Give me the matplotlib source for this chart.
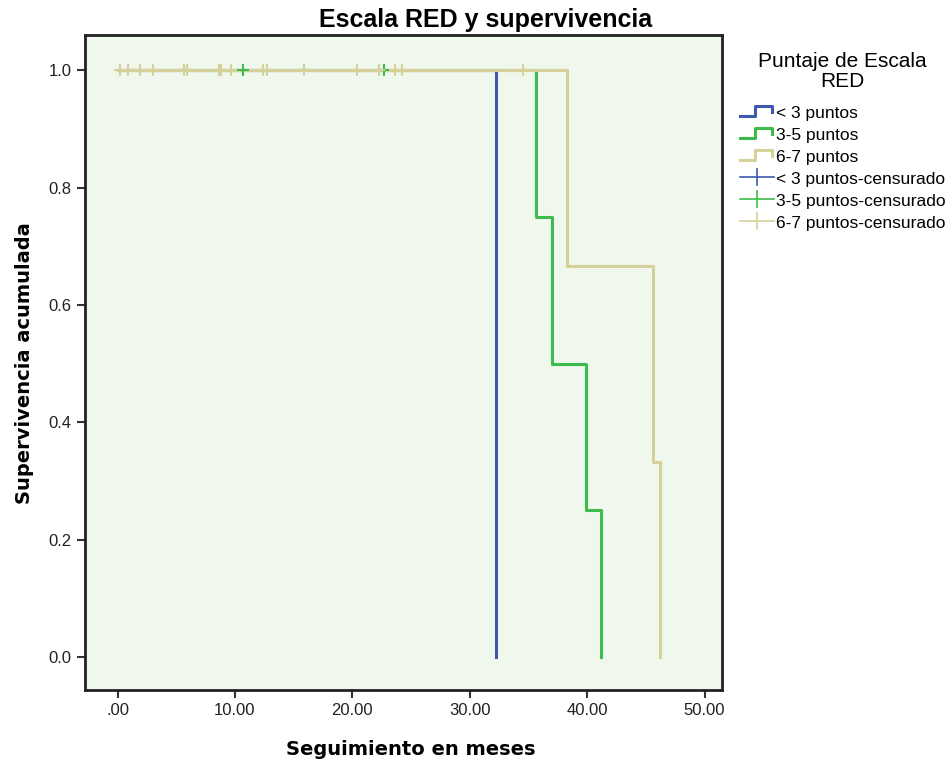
import matplotlib
matplotlib.use('Agg')
import matplotlib.pyplot as plt
from matplotlib.legend_handler import HandlerBase
from matplotlib.lines import Line2D

plt.rcParams['font.family'] = ['Liberation Sans', 'DejaVu Sans']

# survival steps (time in months, cumulative survival)
t_lt3 = [0, 32.2, 32.2]
s_lt3 = [1.0, 1.0, 0.0]

t_35 = [0, 35.6, 37.0, 39.9, 41.2]
s_35 = [1.0, 0.75, 0.5, 0.25, 0.0]

t_67 = [0, 38.3, 45.6, 46.2]
s_67 = [1.0, 0.667, 0.333, 0.0]

# censored observations
cens_35 = [10.7, 22.7]
cens_67 = [0.2, 0.85, 1.9, 3.0, 5.7, 5.9, 8.6, 8.8, 9.7, 12.4, 12.7, 15.9,
           20.4, 22.3, 23.6, 24.2, 34.5]

blue = '#3e57b0'
green = '#3cbc4c'
tan = '#d6d09a'


class StepHandler(HandlerBase):
    def create_artists(self, legend, orig, xd, yd, w, h, fontsize, trans):
        xs = [xd, xd + w * 0.45, xd + w * 0.45, xd + w * 0.92, xd + w * 0.92]
        ys = [yd + h * 0.1, yd + h * 0.1, yd + h * 0.85, yd + h * 0.85, yd + h * 0.35]
        ln = Line2D(xs, ys, color=orig.get_color(), lw=2.2, transform=trans)
        return [ln]


class CensHandler(HandlerBase):
    def create_artists(self, legend, orig, xd, yd, w, h, fontsize, trans):
        hl = Line2D([xd, xd + w], [yd + h / 2, yd + h / 2], color=orig.get_color(),
                    lw=1.2, transform=trans)
        vl = Line2D([xd + w / 2, xd + w / 2], [yd - h * 0.1, yd + h * 1.1],
                    color=orig.get_color(), lw=1.2, transform=trans)
        return [hl, vl]


fig = plt.figure(figsize=(9.52, 7.68), dpi=100)
ax = fig.add_axes([0.0893, 0.1016, 0.6687, 0.8524])
ax.set_facecolor('#f0f8ee')

h1, = ax.step(t_35, s_35, where='post', color=green, lw=2.2)
h2, = ax.step(t_67, s_67, where='post', color=tan, lw=2.2)
h0, = ax.step(t_lt3, s_lt3, where='post', color=blue, lw=2.2)
ax.plot([0, 32.2], [1.0, 1.0], color=tan, lw=2.2)

c0, = ax.plot([], [], ls='none', marker='+', color=blue, ms=9)
c1, = ax.plot(cens_35, [1.0] * len(cens_35), ls='none', marker='+', color=green, ms=9, mew=1.5)
c2, = ax.plot(cens_67, [1.0] * len(cens_67), ls='none', marker='+', color=tan, ms=9, mew=1.5)

ax.set_xlim(-2.77, 51.45)
ax.set_ylim(-0.0562, 1.0596)
ax.set_xticks([0, 10, 20, 30, 40, 50])
ax.set_xticklabels(['.00', '10.00', '20.00', '30.00', '40.00', '50.00'])
ax.set_yticks([0, 0.2, 0.4, 0.6, 0.8, 1.0])
ax.set_yticklabels(['0.0', '0.2', '0.4', '0.6', '0.8', '1.0'])
ax.tick_params(labelsize=12, length=6, width=1.5, color='#333333', labelcolor='#222222')
for sp in ax.spines.values():
    sp.set_linewidth(2)
    sp.set_color('#222222')

fig.text(0.51, 0.974, 'Escala RED y supervivencia', fontsize=18, fontweight='bold',
         ha='center', va='center')
ax.set_xlabel('Seguimiento en meses', fontsize=14, fontweight='bold', family='DejaVu Sans')
ax.set_ylabel('Supervivencia acumulada', fontsize=14, fontweight='bold', family='DejaVu Sans')
ax.xaxis.set_label_coords(0.512, -0.077)
ax.yaxis.set_label_coords(-0.08, 0.5)

leg = fig.legend([h0, h1, h2, c0, c1, c2],
                 ['< 3 puntos', '3-5 puntos', '6-7 puntos',
                  '< 3 puntos-censurado', '3-5 puntos-censurado', '6-7 puntos-censurado'],
                 handler_map={h0: StepHandler(), h1: StepHandler(), h2: StepHandler(),
                              c0: CensHandler(), c1: CensHandler(), c2: CensHandler()},
                 title='Puntaje de Escala\nRED', loc='upper left',
                 bbox_to_anchor=(0.777, 0.932), frameon=False, fontsize=12.5,
                 handlelength=2.0, handleheight=0.8, handletextpad=0.1,
                 labelspacing=0.37, borderaxespad=0, borderpad=0)
leg.get_title().set_fontsize(15)
leg.get_title().set_linespacing(1.05)
leg.get_title().set_multialignment('center')
leg._legend_box.sep = 10

fig.savefig('out.png', dpi=100)
